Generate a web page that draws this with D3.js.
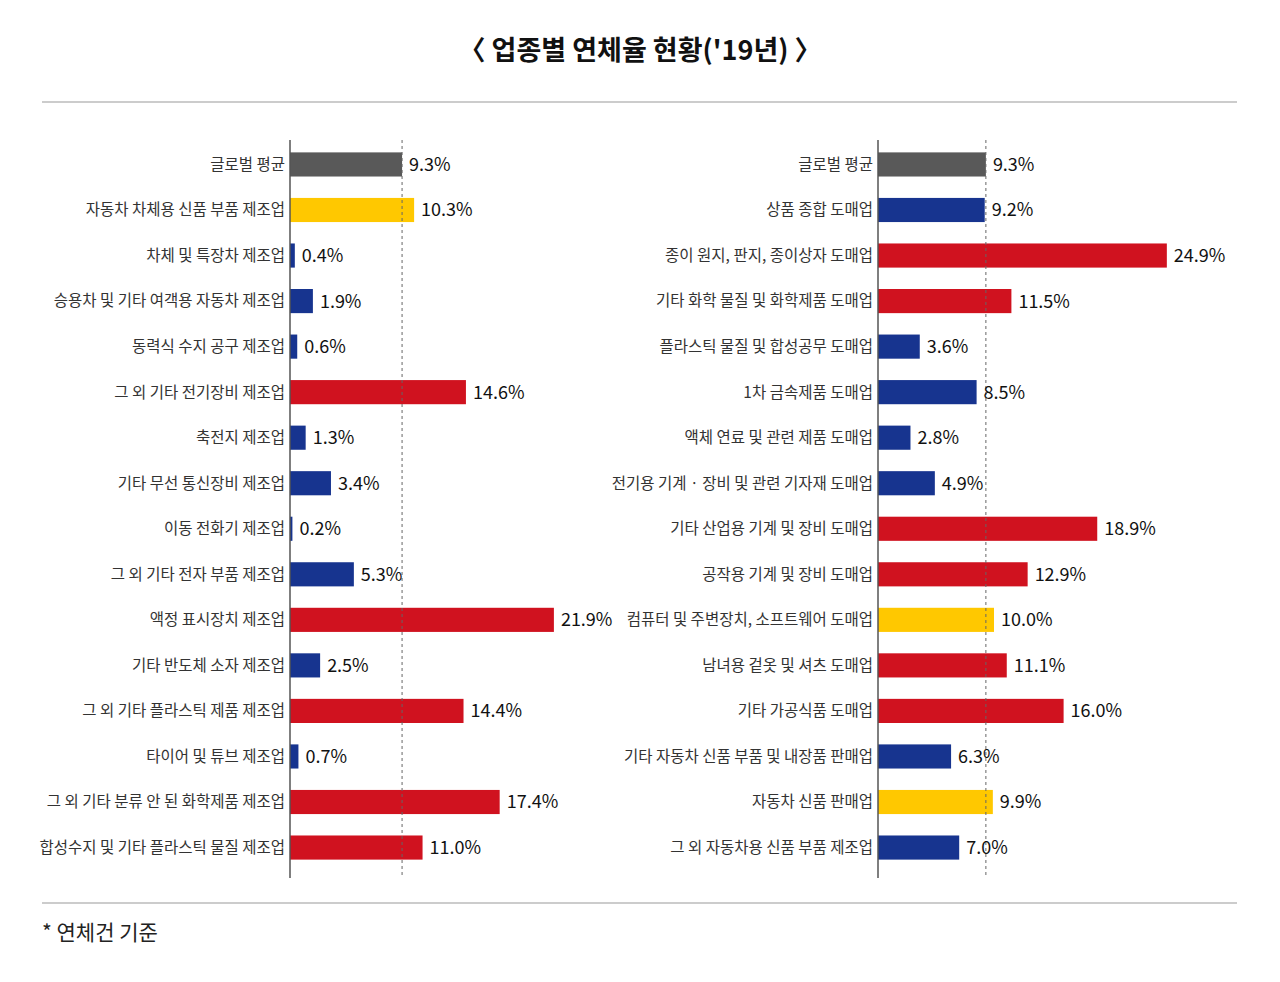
<!DOCTYPE html>
<html><head><meta charset="utf-8">
<script src="https://cdn.jsdelivr.net/npm/d3@7"></script>
<style>body{margin:0;background:#fff}text{font-family:"Noto Sans CJK KR","Noto Sans",sans-serif}</style>
</head><body><svg id="c" width="1280" height="982"></svg>
<script>
const leftCats=["글로벌 평균","자동차 차체용 신품 부품 제조업","차체 및 특장차 제조업","승용차 및 기타 여객용 자동차 제조업","동력식 수지 공구 제조업","그 외 기타 전기장비 제조업","축전지 제조업","기타 무선 통신장비 제조업","이동 전화기 제조업","그 외 기타 전자 부품 제조업","액정 표시장치 제조업","기타 반도체 소자 제조업","그 외 기타 플라스틱 제품 제조업","타이어 및 튜브 제조업","그 외 기타 분류 안 된 화학제품 제조업","합성수지 및 기타 플라스틱 물질 제조업"];
const leftVals=[9.3,10.3,0.4,1.9,0.6,14.6,1.3,3.4,0.2,5.3,21.9,2.5,14.4,0.7,17.4,11.0];
const leftGroups=["avg","hl","lo","lo","lo","hi","lo","lo","lo","lo","hi","lo","hi","lo","hi","hi"];
const rightCats=["글로벌 평균","상품 종합 도매업","종이 원지, 판지, 종이상자 도매업","기타 화학 물질 및 화학제품 도매업","플라스틱 물질 및 합성공무 도매업","1차 금속제품 도매업","액체 연료 및 관련 제품 도매업","전기용 기계 · 장비 및 관련 기자재 도매업","기타 산업용 기계 및 장비 도매업","공작용 기계 및 장비 도매업","컴퓨터 및 주변장치, 소프트웨어 도매업","남녀용 겉옷 및 셔츠 도매업","기타 가공식품 도매업","기타 자동차 신품 부품 및 내장품 판매업","자동차 신품 판매업","그 외 자동차용 신품 부품 제조업"];
const rightVals=[9.3,9.2,24.9,11.5,3.6,8.5,2.8,4.9,18.9,12.9,10.0,11.1,16.0,6.3,9.9,7.0];
const rightGroups=["avg","lo","hi","hi","lo","lo","lo","lo","hi","hi","hl","hi","hi","lo","hl","lo"];
const avg=9.3;
const color={avg:"#595959",hl:"#FFC800",lo:"#17348F",hi:"#D0121F"};
const svg=d3.select("#c");
svg.append("text").attr("x",640).attr("y",60).attr("text-anchor","middle").attr("font-size",27).attr("font-weight",700).attr("fill","#111").text("〈 업종별 연체율 현황('19년) 〉");
[102,903].forEach(y=>svg.append("line").attr("x1",42).attr("x2",1237).attr("y1",y).attr("y2",y).attr("stroke","#999").attr("stroke-width",1));
svg.append("text").attr("x",42).attr("y",940).attr("font-size",21).attr("fill","#222").text("* 연체건 기준");
function panel(cats,vals,groups,x0,pxPerUnit){
  const x=d3.scaleLinear().domain([0,1]).range([x0,x0+pxPerUnit]);
  const y=d3.scaleBand().domain(cats).range([141,871]).paddingInner(0.47).paddingOuter(0.25);
  const g=svg.append("g");
  g.selectAll("rect").data(cats).join("rect").attr("x",x(0)).attr("y",d=>y(d)).attr("height",y.bandwidth())
    .attr("width",(d,i)=>x(vals[i])-x(0)).attr("fill",(d,i)=>color[groups[i]]);
  g.append("line").attr("x1",x(avg)).attr("x2",x(avg)).attr("y1",140).attr("y2",878).attr("stroke","#666").attr("stroke-dasharray","3,3");
  g.append("line").attr("x1",x0).attr("x2",x0).attr("y1",140).attr("y2",878).attr("stroke","#555").attr("stroke-width",1.5);
  g.selectAll("text.c").data(cats).join("text").attr("class","c").attr("x",x0-5).attr("y",d=>y(d)+y.bandwidth()/2).attr("dy","0.35em")
    .attr("text-anchor","end").attr("font-size",15.5).attr("fill","#333").text(d=>d);
  g.selectAll("text.v").data(cats).join("text").attr("class","v").attr("x",(d,i)=>x(vals[i])+7).attr("y",d=>y(d)+y.bandwidth()/2).attr("dy","0.36em")
    .attr("font-size",18).attr("fill","#111").text((d,i)=>vals[i].toFixed(1)+"%");
}
panel(leftCats,leftVals,leftGroups,290,12.05);
panel(rightCats,rightVals,rightGroups,878,11.6);
</script></body></html>
